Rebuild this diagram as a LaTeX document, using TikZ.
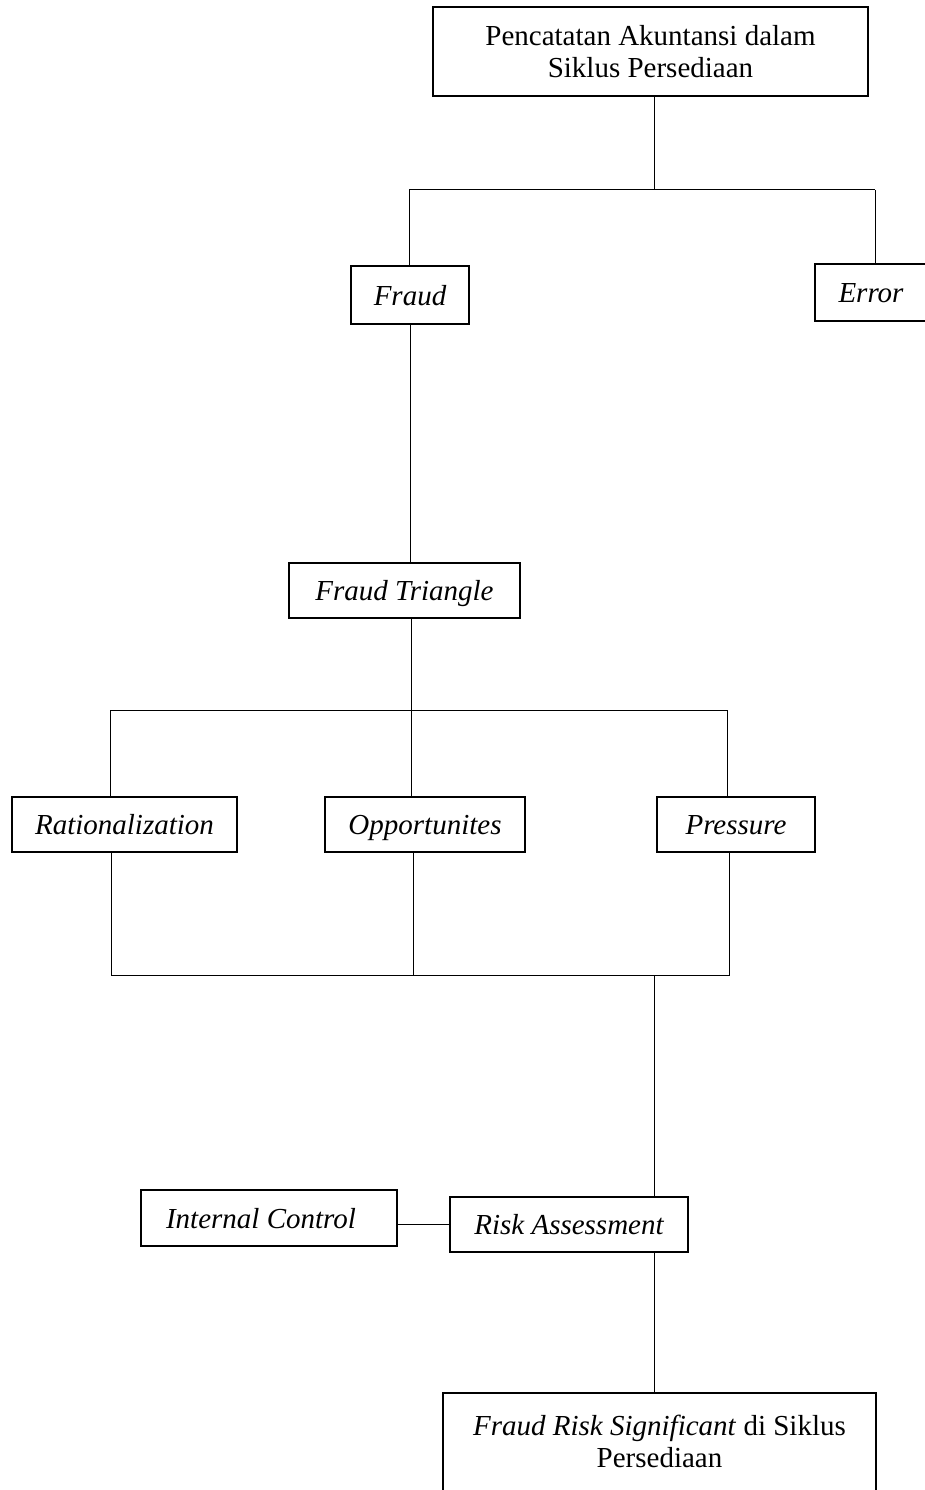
\documentclass[tikz,border=0pt]{standalone}
\usepackage{fontspec}
\setmainfont{Liberation Serif}
\begin{document}
\begin{tikzpicture}[x=1pt,y=-1pt,
  box/.style={draw, line width=1.8pt, inner sep=0pt, align=center,
    font=\fontsize{29}{32}\selectfont},
  onebox/.style={box, text height=25pt, text depth=5pt},
  conn/.style={line width=1pt}]
\useasboundingbox (0,0) rectangle (925,1490);
% boxes
\node[box, minimum width=435pt, minimum height=89pt] (top) at (650.5,51.5)
  {Pencatatan Akuntansi dalam\\Siklus Persediaan};
\node[onebox, minimum width=118pt, minimum height=58pt] (fraud) at (410,295) {\itshape Fraud};
\node[onebox, minimum width=112pt, minimum height=57pt] (error) at (871,292.5) {\itshape Error};
\node[onebox, minimum width=231pt, minimum height=55pt] (ft) at (404.5,590.5) {\itshape Fraud Triangle};
\node[onebox, minimum width=225pt, minimum height=55pt] (rat) at (124.5,824.5) {\itshape Rationalization};
\node[onebox, minimum width=200pt, minimum height=55pt] (opp) at (425,824.5) {\itshape Opportunites};
\node[onebox, minimum width=158pt, minimum height=55pt] (pre) at (736,824.5) {\itshape Pressure};
\node[onebox, minimum width=256pt, minimum height=56pt] (ic) at (269,1218) {\itshape Internal Control\hspace*{16pt}};
\node[onebox, minimum width=238pt, minimum height=55pt] (ra) at (569,1224.5) {\itshape Risk Assessment};
\node[box, minimum width=433pt, minimum height=110pt] (sig) at (659.5,1448) {};
\node[font=\fontsize{29}{32}\selectfont, align=center, inner sep=0pt] (sigtxt) at (659.5,1441)
  {\textit{Fraud Risk Significant} di Siklus\\Persediaan};
% junction coordinates
\coordinate (j1) at (654,190);
\coordinate (jf) at (409,190);
\coordinate (je) at (875,190);
\coordinate (j2) at (411,710);
\coordinate (jl) at (110,710);
\coordinate (jr) at (727,710);
\coordinate (b1) at (111,975);
\coordinate (b2) at (413,975);
\coordinate (b3) at (729,975);
\coordinate (b4) at (654,975);
% connectors
\draw[conn] (top.south -| j1) -- (j1);
\draw[conn] (jf) -- (je);
\draw[conn] (jf) -- (jf |- fraud.north);
\draw[conn] (je) -- (je |- error.north);
\draw[conn] (fraud.south) -- (fraud.south |- ft.north);
\draw[conn] (ft.south -| j2) -- (j2 |- opp.north);
\draw[conn] (jl) -- (jr);
\draw[conn] (jl) -- (jl |- rat.north);
\draw[conn] (jr) -- (jr |- pre.north);
\draw[conn] (b1 |- rat.south) -- (b1) -- (b3) -- (b3 |- pre.south);
\draw[conn] (b2 |- opp.south) -- (b2);
\draw[conn] (b4) -- (b4 |- ra.north);
\draw[conn] (ra.west) -- (ra.west -| ic.east);
\draw[conn] (ra.south -| b4) -- (b4 |- sig.north);
\end{tikzpicture}
\end{document}
